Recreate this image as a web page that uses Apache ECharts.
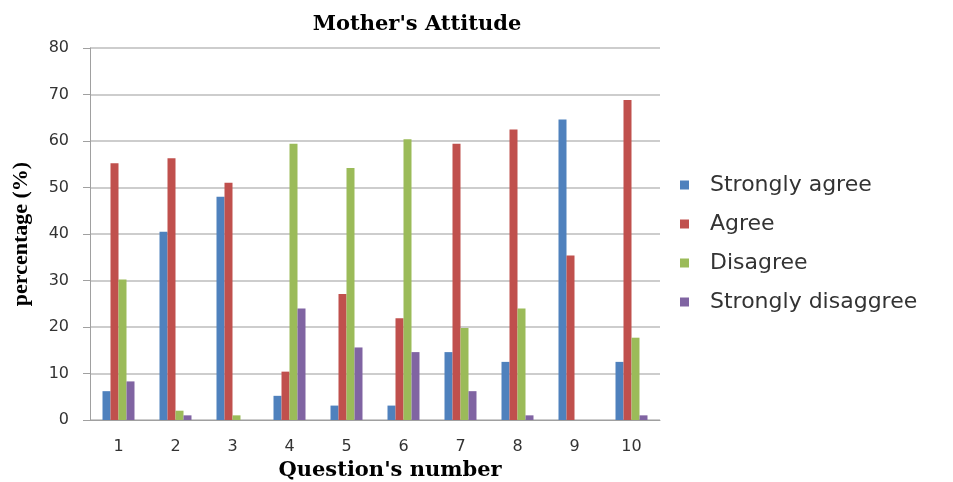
<!DOCTYPE html>
<html><head><meta charset="utf-8">
<script src="https://cdn.jsdelivr.net/npm/echarts@6/dist/echarts.min.js"></script>
<style>html,body{margin:0;padding:0;background:#fff}#c{width:953px;height:482px}</style>
</head><body><div id="c"></div>
<script>
const categories = ['1','2','3','4','5','6','7','8','9','10'];
const stronglyAgree = [6.2, 40.5, 48, 5.2, 3.1, 3.1, 14.6, 12.5, 64.6, 12.5];
const agree = [55.2, 56.3, 51, 10.4, 27.1, 21.9, 59.4, 62.5, 35.4, 68.8];
const disagree = [30.2, 2, 1, 59.4, 54.2, 60.4, 19.8, 24, 0, 17.7];
const stronglyDisagree = [8.3, 1, 0, 24, 15.6, 14.6, 6.2, 1, 0, 1];
const seriesNames = ['Strongly agree','Agree','Disagree','Strongly disaggree'];
const colors = ['#4F81BD','#C0504D','#9BBB59','#8064A2'];
const yTicks = {min:0, max:80, interval:10};

const chart = echarts.init(document.getElementById('c'));
const data = [stronglyAgree, agree, disagree, stronglyDisagree];
chart.setOption({
  animation:false,
  title:{text:"Mother's Attitude", left:412, top:9, textAlign:'center',
    textStyle:{fontFamily:'DejaVu Serif', fontWeight:'bold', fontSize:21, color:'#000'}},
  legend:{orient:'vertical', left:675, top:169, itemWidth:9, itemHeight:9, itemGap:17, icon:'rect',
    textStyle:{fontFamily:'DejaVu Sans', fontSize:22, color:'#333', padding:[0,0,0,16]},
    data:seriesNames},
  grid:{left:90, right:293, top:48, bottom:62, outerBoundsMode:'none', containLabel:false},
  xAxis:{type:'category', data:categories, name:"Question's number", nameLocation:'middle', nameGap:40,
    nameTextStyle:{fontFamily:'DejaVu Serif', fontWeight:'bold', fontSize:21, color:'#000', padding:[0,0,0,30]},
    axisLine:{lineStyle:{color:'#A0A0A0', width:1}},
    axisTick:{show:false},
    axisLabel:{fontFamily:'DejaVu Sans', fontSize:16, color:'#333', margin:19}},
  yAxis:{type:'value', min:yTicks.min, max:yTicks.max, interval:yTicks.interval, name:'percentage (%)',
    nameLocation:'middle', nameGap:58, nameRotate:90,
    nameTextStyle:{fontFamily:'Liberation Serif', fontWeight:'bold', fontSize:22, color:'#000'},
    axisLine:{show:true, lineStyle:{color:'#A0A0A0'}},
    axisTick:{show:true, length:7, lineStyle:{color:'#A0A0A0'}},
    splitLine:{lineStyle:{color:'#BDBDBD', width:1.5}},
    axisLabel:{fontFamily:'DejaVu Sans', fontSize:16, color:'#333', margin:21}},
  series: data.map((d,i)=>({name:seriesNames[i], type:'bar', data:d, barWidth:8, barGap:'0%',
    itemStyle:{color:colors[i]}}))
});
</script></body></html>
